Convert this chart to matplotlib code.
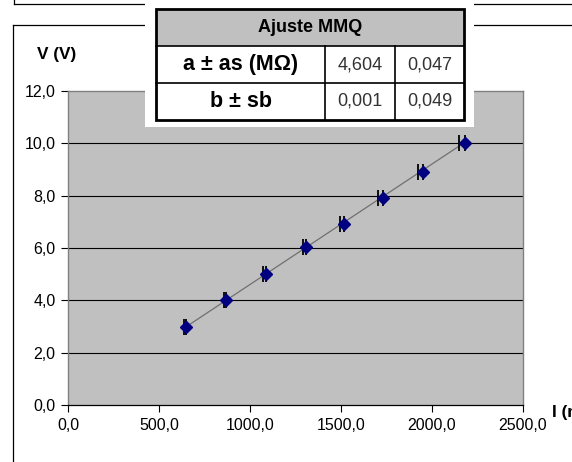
import numpy as np
import matplotlib
matplotlib.use("Agg")
import matplotlib.pyplot as plt
from matplotlib.patches import Rectangle
from matplotlib.ticker import FuncFormatter

# Measured current (nA), voltage (V) and current uncertainty
current_nA = [650, 870, 1090, 1310, 1515, 1730, 1950, 2180]
voltage_V = [3.00, 4.00, 5.00, 6.05, 6.92, 7.90, 8.90, 10.00]
current_err = [12, 15, 17, 20, 22, 25, 28, 33]

x_ticks = [0, 500, 1000, 1500, 2000, 2500]
y_ticks = [0, 2, 4, 6, 8, 10, 12]

# Least-squares fit results
fit_title = "Ajuste MMQ"
fit_names = ["a ± as (MΩ)", "b ± sb"]
fit_values = [4.604, 0.001]
fit_errors = [0.047, 0.049]

plt.rcParams['font.family'] = ['Liberation Sans', 'DejaVu Sans']

W, H = 572, 462
fig = plt.figure(figsize=(W / 100, H / 100), dpi=100)
fig.patch.set_facecolor('white')

ax = fig.add_axes([68 / W, 1 - 405 / H, 455 / W, 314 / H])
ax.set_facecolor('#C0C0C0')
ax.set_xlim(x_ticks[0], x_ticks[-1])
ax.set_ylim(y_ticks[0], y_ticks[-1])
ax.set_xticks(x_ticks)
ax.set_yticks(y_ticks)
comma = FuncFormatter(lambda v, p: f"{v:.1f}".replace('.', ','))
ax.xaxis.set_major_formatter(comma)
ax.yaxis.set_major_formatter(comma)
ax.tick_params(axis='both', direction='out', length=5, width=0.8,
               colors='black', labelsize=11.5, pad=4)

for name in ['top', 'right', 'left']:
    ax.spines[name].set_color('#808080')
    ax.spines[name].set_linewidth(1.0)
ax.spines['bottom'].set_color('black')
ax.spines['bottom'].set_linewidth(0.9)

for yv in y_ticks[1:-1]:
    ax.axhline(yv, color='black', lw=0.8, zorder=1)

# Trendline from the fitted coefficients (I in nA -> µA)
a, b = fit_values
xs = np.array([min(current_nA), max(current_nA)], dtype=float)
ax.plot(xs, a * xs / 1000.0 + b, color='#707070', lw=0.9, zorder=2)

# Horizontal error bars: capped on the low side, plain on the high side
zeros = [0] * len(current_err)
ax.errorbar(current_nA, voltage_V, xerr=[current_err, zeros], fmt='none',
            ecolor='black', elinewidth=1.0, capsize=6, capthick=1.3, zorder=3)
ax.errorbar(current_nA, voltage_V, xerr=[zeros, current_err], fmt='none',
            ecolor='black', elinewidth=1.2, capsize=0, zorder=3)
ax.plot(current_nA, voltage_V, linestyle='none', marker='D', ms=6.3,
        color='#000080', mec='#000080', zorder=4)

ax.set_ylabel("V (V)", rotation=0, fontsize=12.4, fontweight='bold')
ax.yaxis.set_label_coords((56.5 - 68) / 455, (405 - 55) / 314)
ax.yaxis.label.set_va('center')
ax.yaxis.label.set_ha('center')
ax.set_xlabel("I (nA)", fontsize=12.4, fontweight='bold')
ax.xaxis.set_label_coords((552 - 68) / 455, -(412 - 405) / 314)
ax.xaxis.label.set_ha('left')
ax.xaxis.label.set_va('center')

# Overlay in pixel coordinates: frames and the fit table
ov = fig.add_axes([0, 0, 1, 1], zorder=10)
ov.set_xlim(0, W)
ov.set_ylim(H, 0)
ov.axis('off')
ov.patch.set_alpha(0)

ov.plot([14, W], [4, 4], color='black', lw=0.9, zorder=1)
ov.plot([14, 14], [0, 4], color='black', lw=0.9, zorder=1)
ov.plot([13, W], [25, 25], color='black', lw=0.9, zorder=1)
ov.plot([13, 13], [25, H], color='black', lw=0.9, zorder=1)

ov.add_patch(Rectangle((145, 0), 474 - 145, 127, facecolor='white',
                       edgecolor='none', zorder=2))

xe = [156, 325, 395, 464]
ye = [9, 46, 83, 120]
ov.add_patch(Rectangle((xe[0], ye[0]), xe[-1] - xe[0], ye[1] - ye[0],
                       facecolor='#C0C0C0', edgecolor='none', zorder=3))
for yv in ye[1:-1]:
    ov.plot([xe[0], xe[-1]], [yv, yv], color='black', lw=1.2, zorder=4)
for xv in xe[1:-1]:
    ov.plot([xv, xv], [ye[1], ye[-1]], color='black', lw=1.2, zorder=4)
ov.add_patch(Rectangle((xe[0], ye[0]), xe[-1] - xe[0], ye[-1] - ye[0],
                       facecolor='none', edgecolor='black', lw=2.0, zorder=5))

ov.text((xe[0] + xe[-1]) / 2, (ye[0] + ye[1]) / 2, fit_title, ha='center',
        va='center', fontsize=13, fontweight='bold', zorder=6)
for i, (nm, v, e) in enumerate(zip(fit_names, fit_values, fit_errors)):
    yc = (ye[i + 1] + ye[i + 2]) / 2
    ov.text((xe[0] + xe[1]) / 2, yc, nm, ha='center', va='center',
            fontsize=15.5, fontweight='bold', zorder=6)
    ov.text((xe[1] + xe[2]) / 2, yc, f"{v:.3f}".replace('.', ','),
            ha='center', va='center', fontsize=13, color='#333333', zorder=6)
    ov.text((xe[2] + xe[3]) / 2, yc, f"{e:.3f}".replace('.', ','),
            ha='center', va='center', fontsize=13, color='#333333', zorder=6)

fig.savefig("out.png", dpi=100)
